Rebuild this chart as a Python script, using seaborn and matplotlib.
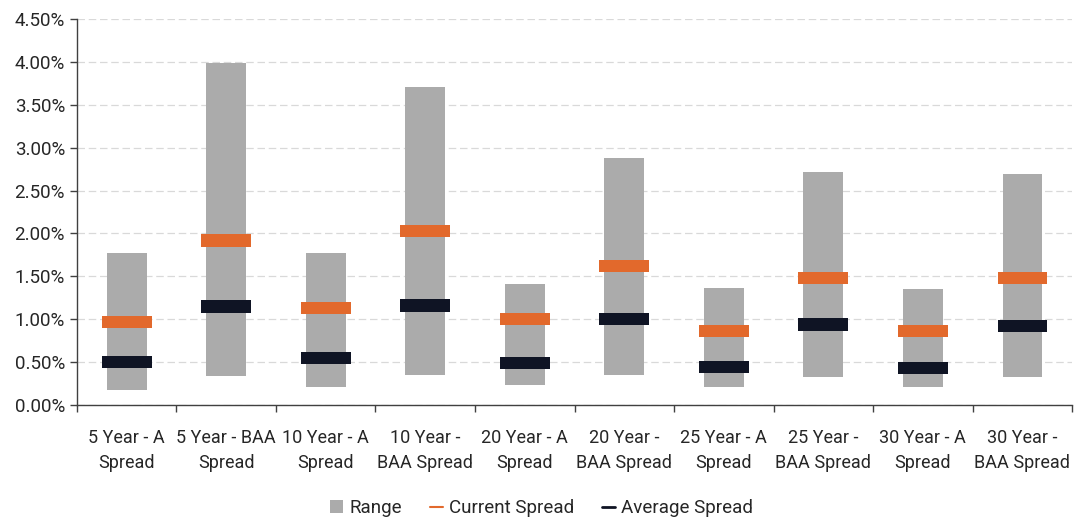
import matplotlib
matplotlib.use("Agg")
import matplotlib.pyplot as plt
from matplotlib.lines import Line2D
from matplotlib.patches import Patch
from matplotlib.ticker import FuncFormatter, MultipleLocator, FixedLocator
import seaborn as sns
import pandas as pd
import numpy as np

categories = ["5 Year - A\nSpread", "5 Year - BAA\nSpread", "10 Year - A\nSpread",
              "10 Year -\nBAA Spread", "20 Year - A\nSpread", "20 Year -\nBAA Spread",
              "25 Year - A\nSpread", "25 Year -\nBAA Spread", "30 Year - A\nSpread",
              "30 Year -\nBAA Spread"]
range_low = [0.18, 0.34, 0.21, 0.35, 0.23, 0.35, 0.21, 0.33, 0.21, 0.33]
range_high = [1.77, 3.99, 1.77, 3.71, 1.41, 2.88, 1.37, 2.72, 1.35, 2.69]
current_spread = [0.97, 1.92, 1.13, 2.03, 1.00, 1.62, 0.86, 1.48, 0.86, 1.48]
average_spread = [0.50, 1.15, 0.55, 1.16, 0.49, 1.00, 0.44, 0.94, 0.43, 0.92]

sns.set_theme(style="white")
plt.rcParams["font.family"] = ["Roboto", "Liberation Sans", "DejaVu Sans"]

GRAY = "#ABABAB"
ORANGE = "#E2692C"
NAVY = "#0F1424"

df = pd.DataFrame({
    "category": categories,
    "low": range_low,
    "high": range_high,
    "current": current_spread,
    "average": average_spread,
})
df["span"] = df["high"] - df["low"]

fig = plt.figure(figsize=(10.83, 5.23), dpi=100)
ax = fig.add_axes([0.071, 0.2256, 0.919, 0.738])

# range bars spanning low..high
sns.barplot(data=df, x="category", y="span", bottom=df["low"].values, color=GRAY,
            width=0.4, saturation=1, linewidth=0, edgecolor="none", ax=ax, zorder=2)

# current and average markers as thick short bars
thick = 0.145
sns.barplot(data=df.assign(h=thick), x="category", y="h",
            bottom=(df["current"] - thick / 2).values, color=ORANGE,
            width=0.5, saturation=1, linewidth=0, edgecolor="none", ax=ax, zorder=3)
sns.barplot(data=df.assign(h=thick), x="category", y="h",
            bottom=(df["average"] - thick / 2).values, color=NAVY,
            width=0.5, saturation=1, linewidth=0, edgecolor="none", ax=ax, zorder=3)

ax.set_xlim(-0.5, len(categories) - 0.5)
ax.set_ylim(0, 4.5)
ax.yaxis.set_major_locator(MultipleLocator(0.5))
ax.yaxis.set_major_formatter(FuncFormatter(lambda v, p: f"{v:.2f}%"))
ax.set_xlabel("")
ax.set_ylabel("")

ax.grid(axis="y", color="#D9D9D9", linewidth=0.9, linestyle=(0, (6, 3)), zorder=0)
ax.set_axisbelow(True)

for s in ["top", "right"]:
    ax.spines[s].set_visible(False)
for s in ["left", "bottom"]:
    ax.spines[s].set_color("#404040")
    ax.spines[s].set_linewidth(1.0)

ax.xaxis.set_minor_locator(FixedLocator(np.arange(-0.5, len(categories), 1.0)))
ax.tick_params(axis="x", which="major", length=0, pad=17, labelsize=13, colors="#262626")
ax.tick_params(axis="x", which="minor", length=5, width=1, color="#404040", direction="out", bottom=True)
ax.tick_params(axis="y", length=5, width=1, color="#404040", direction="out", left=True,
               labelsize=13.5, labelcolor="#262626")
for lab in ax.get_xticklabels():
    lab.set_ha("center")
    lab.set_multialignment("center")
    lab.set_linespacing(1.5)

handles = [
    Patch(facecolor=GRAY, edgecolor="none"),
    Line2D([0], [0], color=ORANGE, linewidth=1.5),
    Line2D([0], [0], color=NAVY, linewidth=2),
]
fig.legend(handles, ["Range", "Current Spread", "Average Spread"], loc="center",
           bbox_to_anchor=(0.5, 0.028), ncol=3, frameon=False, fontsize=13.5,
           handlelength=0.7, handleheight=0.7, handletextpad=0.3, columnspacing=1.5,
           labelcolor="#262626")

fig.savefig("out.png", dpi=100)
